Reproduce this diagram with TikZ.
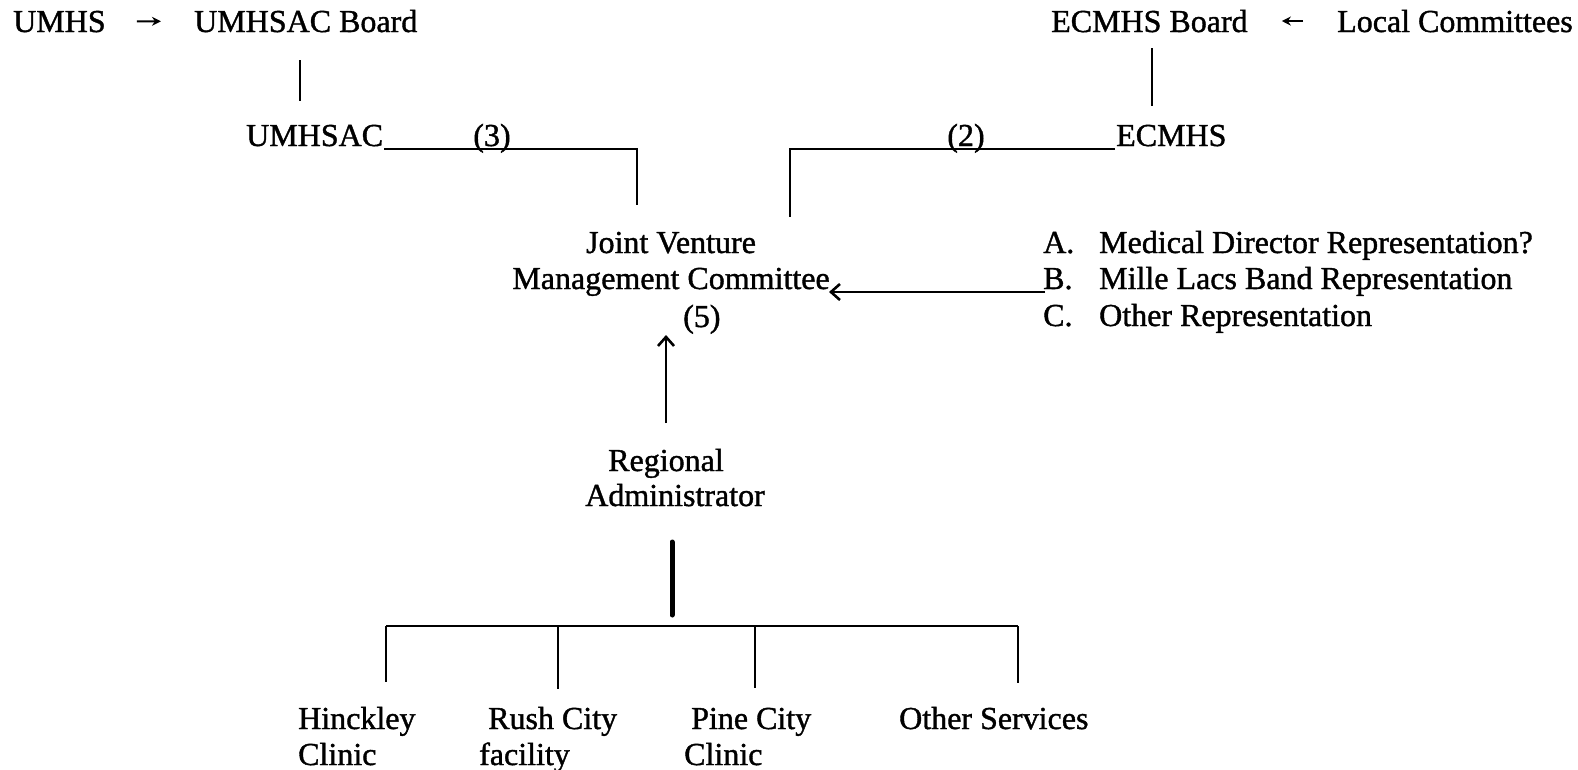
\documentclass[tikz,border=0pt]{standalone}
\usepackage{fontspec}
\setmainfont{Liberation Serif}[FakeBold=1.2]
\usetikzlibrary{arrows.meta}

\begin{document}
\begin{tikzpicture}[x=1pt,y=-1pt,line width=2.4pt,
    lbl/.style={font=\fontsize{32}{36}\selectfont,inner sep=0pt,anchor=base west},
    barb/.style={-{Straight Barb[length=9pt,width=16pt,line width=2.6pt]}},
    small/.style={line width=2pt,-{Stealth[length=9pt,width=9pt]}}]
    \useasboundingbox (0,0) rectangle (1578,769);

    % top row
    \node[lbl] (umhs) at (12,32) {UMHS};
    \node[lbl] (umhsacb) at (193,32) {UMHSAC Board};
    \node[lbl] (ecmhsb) at (1050,32) {ECMHS Board};
    \node[lbl] (local) at (1336,32) {Local Committees};

    \draw[small,shorten <=30pt,shorten >=32pt] (umhs.east) -- (umhsacb.west);
    \draw[small,shorten <=33pt,shorten >=33pt] (local.west) -- (ecmhsb.east);

    % second row
    \node[lbl] (umhsac) at (245,146) {UMHSAC};
    \node[lbl] (ecmhs) at (1115,146) {ECMHS};
    \node[lbl,anchor=base] (n3) at (492,146) {(3)};
    \node[lbl,anchor=base] (n2) at (966,146) {(2)};

    \draw (300,60) -- (300,101);
    \draw (1152,48) -- (1152,106);

    \coordinate (ul) at (637,149);
    \coordinate (ur) at (790,149);
    \draw (umhsac.base east |- ul) -- (ul) -- (637,205);
    \draw (ecmhs.base west |- ur) -- (ur) -- (790,217);

    % committee
    \node[lbl,anchor=base] (jv1) at (671,253) {Joint Venture};
    \node[lbl,anchor=base] (jv2) at (671,289) {Management Committee};
    \node[lbl] (n5) at (682,327) {(5)};

    \node[lbl] (optA) at (1042,253) {\makebox[56pt][l]{A.}Medical Director Representation?};
    \node[lbl] (optB) at (1042,289) {\makebox[56pt][l]{B.}Mille Lacs Band Representation};
    \node[lbl] (optC) at (1042,326) {\makebox[56pt][l]{C.}Other Representation};

    \coordinate (bl) at (1045,292);
    \draw[barb] (bl) -- (829,292);

    % administrator
    \node[lbl,anchor=base] (reg1) at (666,471) {Regional};
    \node[lbl,anchor=base] (reg2) at (675,506) {Administrator};
    \draw[barb] (666,423) -- (666,335);

    \draw[line width=5pt,line cap=round] (672,542) -- (672,615);
    \draw (386,626) -- (1018,626);
    \foreach \x/\y in {386/682, 558/689, 755/688, 1018/683} {
        \draw (\x,626) -- (\x,\y);
    }

    % units
    \node[lbl] (hinck1) at (297,729) {Hinckley};
    \node[lbl] (hinck2) at (297,765) {Clinic};
    \node[lbl] (rush1) at (487,729) {Rush City};
    \node[lbl] (rush2) at (478,765) {facility};
    \node[lbl] (pine1) at (690,729) {Pine City};
    \node[lbl] (pine2) at (683,765) {Clinic};
    \node[lbl] (other) at (898,729) {Other Services};
\end{tikzpicture}
\end{document}
